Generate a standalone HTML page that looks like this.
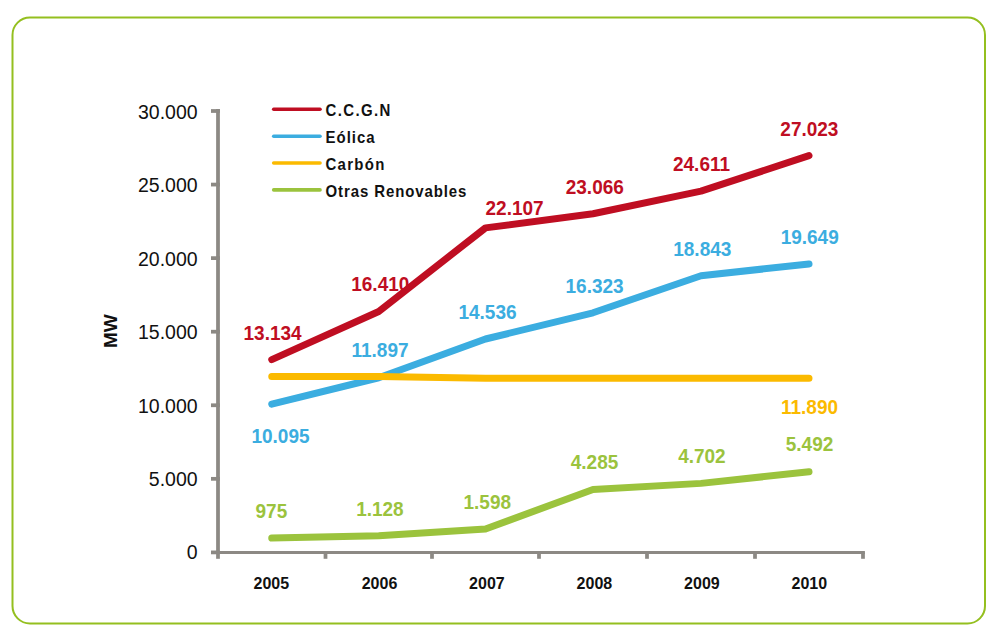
<!DOCTYPE html>
<html><head><meta charset="utf-8"><style>
html,body{margin:0;padding:0;background:#fff;width:999px;height:639px;overflow:hidden}
svg{display:block}
text{font-family:"Liberation Sans",sans-serif}
.yl{font-size:19.5px;fill:#111}
.xl{font-size:16px;font-weight:bold;fill:#111}
.mw{font-size:19px;font-weight:bold;fill:#111}
.dl{font-size:19px;font-weight:bold}
.lg{font-size:15px;font-weight:bold;fill:#111;letter-spacing:1px}
</style></head><body>
<svg width="999" height="639" viewBox="0 0 999 639">
<rect x="12.5" y="17.5" width="972.5" height="606" rx="17.5" ry="17.5" fill="none" stroke="#94BF1F" stroke-width="2"/>
<path d="M218 109.1 V552.4" stroke="#8C8984" stroke-width="3.75" fill="none"/>
<path d="M211 552.40 H219.9" stroke="#8C8984" stroke-width="3.75"/>
<text x="197.6" y="559.30" text-anchor="end" class="yl">0</text>
<path d="M211 478.83 H219.9" stroke="#8C8984" stroke-width="3.75"/>
<text x="197.6" y="485.93" text-anchor="end" class="yl">5.000</text>
<path d="M211 405.27 H219.9" stroke="#8C8984" stroke-width="3.75"/>
<text x="197.6" y="412.56" text-anchor="end" class="yl">10.000</text>
<path d="M211 331.70 H219.9" stroke="#8C8984" stroke-width="3.75"/>
<text x="197.6" y="339.19" text-anchor="end" class="yl">15.000</text>
<path d="M211 258.13 H219.9" stroke="#8C8984" stroke-width="3.75"/>
<text x="197.6" y="265.82" text-anchor="end" class="yl">20.000</text>
<path d="M211 184.57 H219.9" stroke="#8C8984" stroke-width="3.75"/>
<text x="197.6" y="192.45" text-anchor="end" class="yl">25.000</text>
<path d="M211 111.00 H219.9" stroke="#8C8984" stroke-width="3.75"/>
<text x="197.6" y="119.08" text-anchor="end" class="yl">30.000</text>
<path d="M211 552.4 H864.9" stroke="#8C8984" stroke-width="3" fill="none"/>
<path d="M218.00 552.4 V558.8" stroke="#8C8984" stroke-width="3.75"/>
<path d="M325.50 552.4 V558.8" stroke="#8C8984" stroke-width="3.75"/>
<path d="M432.00 552.4 V558.8" stroke="#8C8984" stroke-width="3.75"/>
<path d="M539.00 552.4 V558.8" stroke="#8C8984" stroke-width="3.75"/>
<path d="M647.00 552.4 V558.8" stroke="#8C8984" stroke-width="3.75"/>
<path d="M755.00 552.4 V558.8" stroke="#8C8984" stroke-width="3.75"/>
<path d="M863.00 552.4 V558.8" stroke="#8C8984" stroke-width="3.75"/>
<text x="271.30" y="588.6" text-anchor="middle" class="xl">2005</text>
<text x="379.50" y="588.6" text-anchor="middle" class="xl">2006</text>
<text x="486.90" y="588.6" text-anchor="middle" class="xl">2007</text>
<text x="594.40" y="588.6" text-anchor="middle" class="xl">2008</text>
<text x="701.90" y="588.6" text-anchor="middle" class="xl">2009</text>
<text x="809.30" y="588.6" text-anchor="middle" class="xl">2010</text>
<text transform="translate(117.3 331.2) rotate(-90)" text-anchor="middle" class="mw">MW</text>
<text transform="translate(272.6 340.1) scale(1 1.08)" text-anchor="middle" class="dl" fill="#BF0E22">13.134</text>
<text transform="translate(380.3 291.3) scale(1 1.08)" text-anchor="middle" class="dl" fill="#BF0E22">16.410</text>
<text transform="translate(514.6 214.70000000000002) scale(1 1.08)" text-anchor="middle" class="dl" fill="#BF0E22">22.107</text>
<text transform="translate(594.8 193.9) scale(1 1.08)" text-anchor="middle" class="dl" fill="#BF0E22">23.066</text>
<text transform="translate(701.5 170.70000000000002) scale(1 1.08)" text-anchor="middle" class="dl" fill="#BF0E22">24.611</text>
<text transform="translate(809.4 135.9) scale(1 1.08)" text-anchor="middle" class="dl" fill="#BF0E22">27.023</text>
<text transform="translate(280.5 443.40000000000003) scale(1 1.08)" text-anchor="middle" class="dl" fill="#3BADE0">10.095</text>
<text transform="translate(380 357.3) scale(1 1.08)" text-anchor="middle" class="dl" fill="#3BADE0">11.897</text>
<text transform="translate(487.5 318.90000000000003) scale(1 1.08)" text-anchor="middle" class="dl" fill="#3BADE0">14.536</text>
<text transform="translate(594.6 292.7) scale(1 1.08)" text-anchor="middle" class="dl" fill="#3BADE0">16.323</text>
<text transform="translate(702.3 255.9) scale(1 1.08)" text-anchor="middle" class="dl" fill="#3BADE0">18.843</text>
<text transform="translate(809.7 243.9) scale(1 1.08)" text-anchor="middle" class="dl" fill="#3BADE0">19.649</text>
<text transform="translate(809.5 413.7) scale(1 1.08)" text-anchor="middle" class="dl" fill="#FBBA00">11.890</text>
<text transform="translate(271.4 517.9) scale(1 1.08)" text-anchor="middle" class="dl" fill="#9BC33D">975</text>
<text transform="translate(379.9 516.1999999999999) scale(1 1.08)" text-anchor="middle" class="dl" fill="#9BC33D">1.128</text>
<text transform="translate(487.3 508.5) scale(1 1.08)" text-anchor="middle" class="dl" fill="#9BC33D">1.598</text>
<text transform="translate(594.5 469.40000000000003) scale(1 1.08)" text-anchor="middle" class="dl" fill="#9BC33D">4.285</text>
<text transform="translate(701.9 463.40000000000003) scale(1 1.08)" text-anchor="middle" class="dl" fill="#9BC33D">4.702</text>
<text transform="translate(809.5 451.3) scale(1 1.08)" text-anchor="middle" class="dl" fill="#9BC33D">5.492</text>
<path d="M271.75 359.59 L378.75 311.50 L485.50 227.87 L593.00 213.79 L701.00 191.11 L809.00 155.70" stroke="#BF0E22" stroke-width="7.0" fill="none" stroke-linecap="round" stroke-linejoin="round"/>
<path d="M271.75 404.21 L378.75 377.75 L485.50 339.01 L593.00 312.78 L701.00 275.78 L809.00 263.95" stroke="#3BADE0" stroke-width="7.0" fill="none" stroke-linecap="round" stroke-linejoin="round"/>
<path d="M271.75 376.40 L378.75 376.40 L485.50 378.20 L593.00 378.20 L701.00 378.20 L809.00 378.20" stroke="#FBBA00" stroke-width="7.0" fill="none" stroke-linecap="round" stroke-linejoin="round"/>
<path d="M271.75 538.09 L378.75 535.84 L485.50 528.94 L593.00 489.50 L701.00 483.37 L809.00 471.78" stroke="#9BC33D" stroke-width="7.0" fill="none" stroke-linecap="round" stroke-linejoin="round"/>
<path d="M273.7 109.25 H320" stroke="#BF0E22" stroke-width="3.6" stroke-linecap="round"/>
<text transform="translate(325.5 115.80) scale(1 1.1)" class="lg" style="letter-spacing:1.37px">C.C.G.N</text>
<path d="M273.7 136.25 H320" stroke="#3BADE0" stroke-width="3.6" stroke-linecap="round"/>
<text transform="translate(325.5 142.90) scale(1 1.1)" class="lg" style="letter-spacing:1.0px">Eólica</text>
<path d="M273.7 163.00 H320" stroke="#FBBA00" stroke-width="3.6" stroke-linecap="round"/>
<text transform="translate(325.5 170.00) scale(1 1.1)" class="lg" style="letter-spacing:1.28px">Carbón</text>
<path d="M273.7 189.90 H320" stroke="#9BC33D" stroke-width="3.6" stroke-linecap="round"/>
<text transform="translate(325.5 197.20) scale(1 1.1)" class="lg" style="letter-spacing:0.9px">Otras Renovables</text>
</svg>
</body></html>
